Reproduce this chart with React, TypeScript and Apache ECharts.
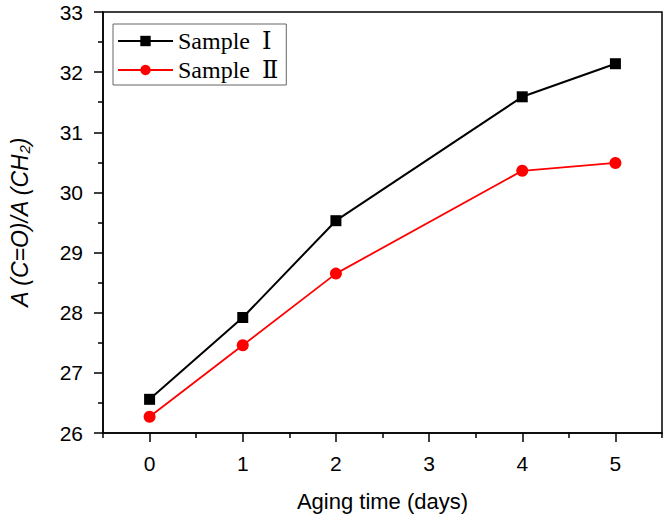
import React, { useEffect, useRef } from "react";
import * as echarts from "echarts";

const days = [0, 1, 2, 4, 5];
const sample1 = [26.56, 27.92, 29.53, 31.59, 32.14];
const sample2 = [26.27, 27.46, 28.65, 30.36, 30.49];
const xMajorTicks = [0, 1, 2, 3, 4, 5];
const xMinorTicks = [-0.5, 0.5, 1.5, 2.5, 3.5, 4.5, 5.5];
const seriesNames = ["Sample  \u2160", "Sample  \u2161"];

export default function App() {
  const ref = useRef<HTMLDivElement>(null);
  useEffect(() => {
    const chart = echarts.init(ref.current!, null, { renderer: "svg" });
    const sans = "Liberation Sans, Arial, sans-serif";
    chart.setOption({
      animation: false,
      backgroundColor: "#fff",
      grid: {
        left: 94,
        right: 4,
        top: 12,
        bottom: 84,
        show: true,
        borderColor: "#000",
        borderWidth: 1.5,
        backgroundColor: "transparent",
      },
      legend: {
        orient: "vertical",
        left: 113,
        top: 24,
        padding: [5, 8, 3, 4],
        itemGap: 5,
        itemWidth: 55,
        itemHeight: 13,
        borderColor: "#666",
        borderWidth: 1,
        textStyle: { fontFamily: "Liberation Serif, DejaVu Serif, Times New Roman, serif", fontSize: 24, color: "#000" },
        data: seriesNames,
      },
      xAxis: [
        {
          type: "value",
          min: -0.5,
          max: 5.5,
          name: "Aging time (days)",
          nameLocation: "middle",
          nameGap: 57,
          nameTextStyle: { fontFamily: sans, fontSize: 22, color: "#000" },
          axisLine: { show: true, onZero: false, lineStyle: { color: "#000", width: 1.5 } },
          axisTick: { show: true, length: 9, customValues: xMajorTicks, lineStyle: { color: "#000", width: 1.5 } },
          axisLabel: { customValues: xMajorTicks, margin: 20, fontFamily: sans, fontSize: 21, color: "#000" },
          splitLine: { show: false },
        },
        {
          type: "value",
          min: -0.5,
          max: 5.5,
          position: "bottom",
          axisLine: { show: false, onZero: false },
          axisTick: { show: true, length: 5, customValues: xMinorTicks, lineStyle: { color: "#000", width: 1.5 } },
          axisLabel: { show: false },
          splitLine: { show: false },
        },
      ],
      yAxis: {
        type: "value",
        min: 26,
        max: 33,
        interval: 1,
        name: "{i|A (C=O)/A (CH}{s|2}{i|)}",
        nameLocation: "middle",
        nameGap: 71,
        nameTextStyle: {
          rich: {
            i: { fontFamily: sans, fontSize: 23, fontStyle: "italic", color: "#000" },
            s: { fontFamily: sans, fontSize: 15, fontStyle: "italic", color: "#000", verticalAlign: "bottom", padding: [10, 0, 0, 0] },
          },
        },
        axisLine: { show: true, onZero: false, lineStyle: { color: "#000", width: 1.5 } },
        axisTick: { show: true, length: 9, lineStyle: { color: "#000", width: 1.5 } },
        minorTick: { show: true, splitNumber: 2, length: 5, lineStyle: { color: "#000", width: 1.5 } },
        axisLabel: { margin: 20, fontFamily: sans, fontSize: 21, color: "#000" },
        splitLine: { show: false },
      },
      series: [
        {
          name: seriesNames[0],
          type: "line",
          data: days.map((d, i) => [d, sample1[i]]),
          symbol: "rect",
          symbolSize: 11,
          itemStyle: { color: "#000" },
          lineStyle: { color: "#000", width: 2 },
        },
        {
          name: seriesNames[1],
          type: "line",
          data: days.map((d, i) => [d, sample2[i]]),
          symbol: "circle",
          symbolSize: 12,
          itemStyle: { color: "#ff0000" },
          lineStyle: { color: "#ff0000", width: 1.8 },
        },
      ],
    });
    return () => chart.dispose();
  }, []);
  return <div ref={ref} style={{ position: "absolute", left: 0, top: 0, width: 666, height: 517 }} />;
}
